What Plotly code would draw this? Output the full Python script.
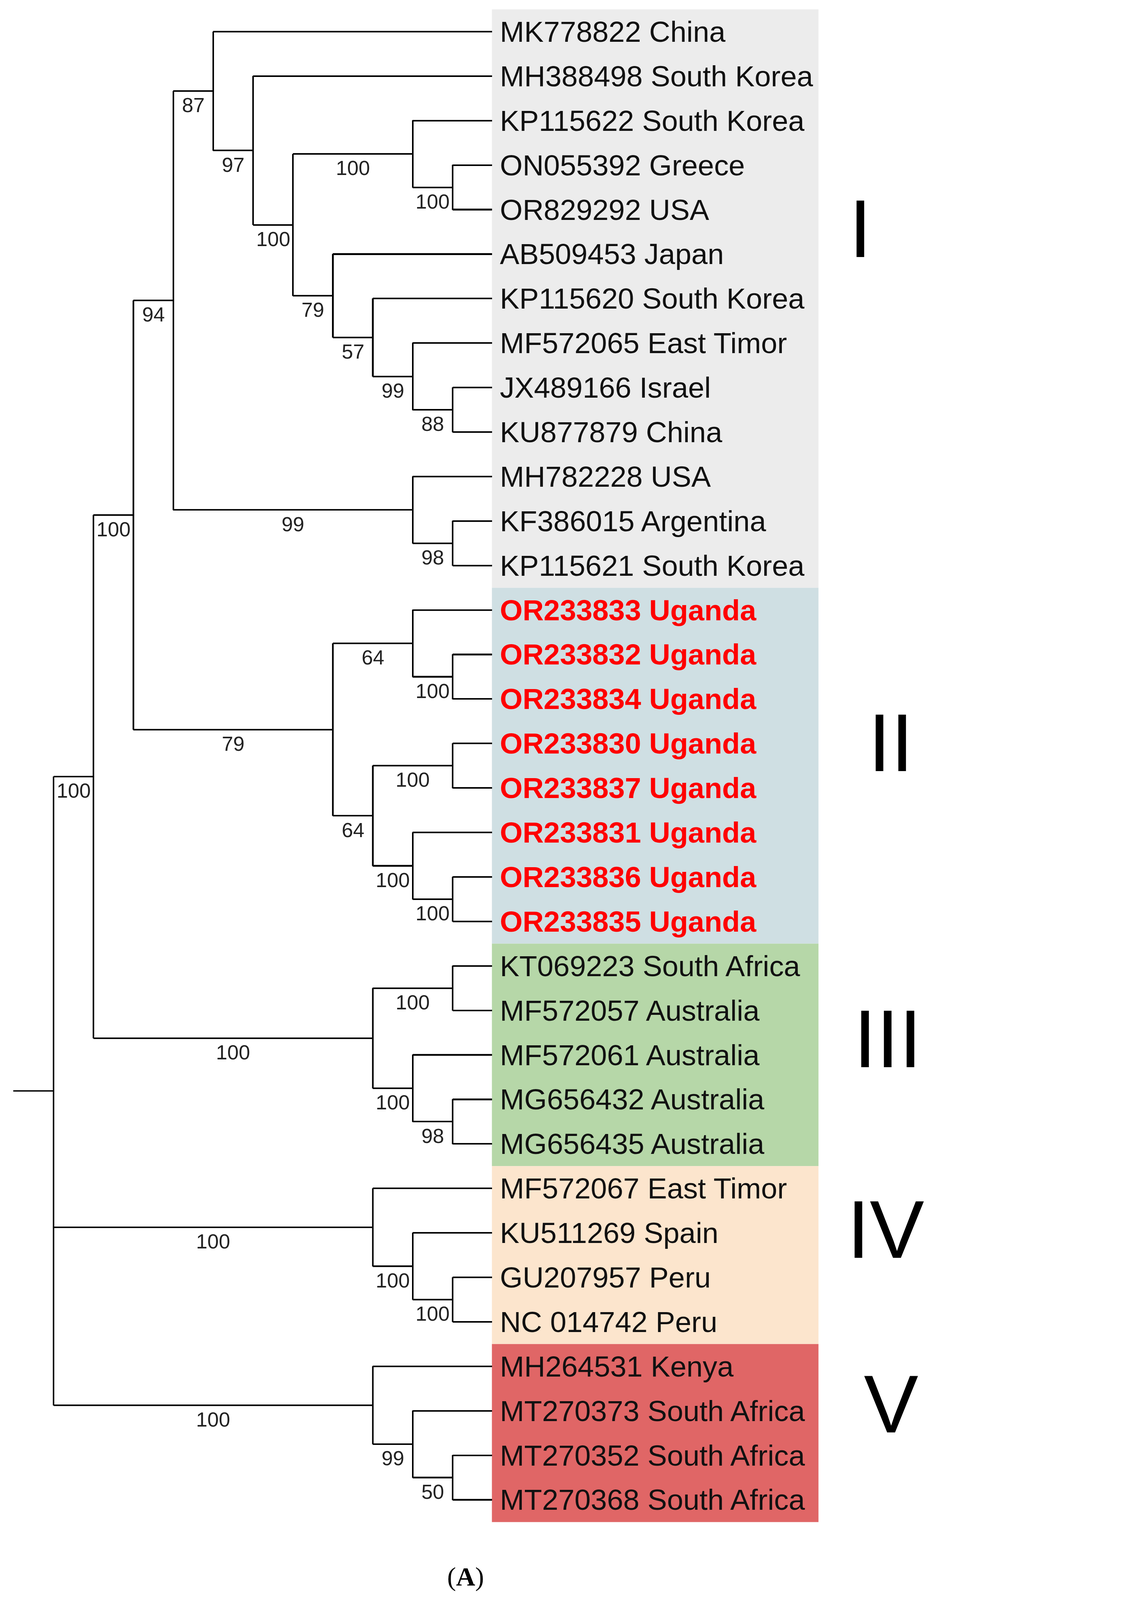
import plotly.graph_objects as go

# ---- data ----
leaves = ["MK778822 China","MH388498 South Korea","KP115622 South Korea","ON055392 Greece",
          "OR829292 USA","AB509453 Japan","KP115620 South Korea","MF572065 East Timor",
          "JX489166 Israel","KU877879 China","MH782228 USA","KF386015 Argentina",
          "KP115621 South Korea","OR233833 Uganda","OR233832 Uganda","OR233834 Uganda",
          "OR233830 Uganda","OR233837 Uganda","OR233831 Uganda","OR233836 Uganda",
          "OR233835 Uganda","KT069223 South Africa","MF572057 Australia","MF572061 Australia",
          "MG656432 Australia","MG656435 Australia","MF572067 East Timor","KU511269 Spain",
          "GU207957 Peru","NC 014742 Peru","MH264531 Kenya","MT270373 South Africa",
          "MT270352 South Africa","MT270368 South Africa"]
# internal nodes: name -> (depth level, bootstrap, children)
nodes = {
 "root": (0, "", ["n1", "IV", "V"]),
 "n1": (1, "100", ["n2", "III"]),
 "n2": (2, "100", ["n94", "II"]),
 "n94": (3, "94", ["n87", "n99b"]),
 "n87": (4, "87", [0, "n97"]),
 "n97": (5, "97", [1, "n100a"]),
 "n100a": (6, "100", ["n100b", "n79"]),
 "n100b": (9, "100", [2, "n100c"]),
 "n100c": (10, "100", [3, 4]),
 "n79": (7, "79", [5, "n57"]),
 "n57": (8, "57", [6, "n99a"]),
 "n99a": (9, "99", [7, "n88"]),
 "n88": (10, "88", [8, 9]),
 "n99b": (9, "99", [10, "n98"]),
 "n98": (10, "98", [11, 12]),
 "II": (7, "79", ["n64a", "n64b"]),
 "n64a": (9, "64", [13, "n100d"]),
 "n100d": (10, "100", [14, 15]),
 "n64b": (8, "64", ["n100e", "n100f"]),
 "n100e": (10, "100", [16, 17]),
 "n100f": (9, "100", [18, "n100g"]),
 "n100g": (10, "100", [19, 20]),
 "III": (8, "100", ["n100i", "n100j"]),
 "n100i": (10, "100", [21, 22]),
 "n100j": (9, "100", [23, "n98b"]),
 "n98b": (10, "98", [24, 25]),
 "IV": (8, "100", [26, "n100l"]),
 "n100l": (9, "100", [27, "n100m"]),
 "n100m": (10, "100", [28, 29]),
 "V": (8, "100", [30, "n99c"]),
 "n99c": (9, "99", [31, "n50"]),
 "n50": (10, "50", [32, 33]),
}
clades = ["I", "II", "III", "IV", "V"]
clade_ranges = [(0, 12), (13, 20), (21, 25), (26, 29), (30, 33)]
clade_colors = ["#ececec", "#cfdfe3", "#b6d7a8", "#fce5cd", "#e06666"]

# ---- layout (display units, scaled to 2937x5058) ----
W, H = 910, 1568
S = 2937 / W
Y0, DY = 31, 43.6
X0, DX = 52.5, 39.1
XT = 482
def lx(level): return X0 + DX * level
def ly(i): return Y0 + DY * i

xs, ys, anns = [], [], []
def pos(n):
    if isinstance(n, int):
        return XT, ly(n)
    lvl, bs, ch = nodes[n]
    x = lx(lvl)
    cps = [pos(c) for c in ch]
    cy = [p[1] for p in cps]
    for (cx, yy) in cps:
        xs.extend([x, cx, None]); ys.extend([yy, yy, None])
    xs.extend([x, x, None]); ys.extend([min(cy), max(cy), None])
    return x, (min(cy) + max(cy)) / 2

def labels(n, px):
    if isinstance(n, int): return
    lvl, bs, ch = nodes[n]
    x, y = pos(n)
    if bs:
        anns.append(dict(x=(px + x) / 2, y=y + 2, text=bs, showarrow=False, xanchor="center",
                         yanchor="top", font=dict(size=20 * S, color="#222", family="Liberation Sans")))
    for c in ch: labels(c, x)

rx, ry = pos("root")
xs.extend([13, rx, None]); ys.extend([ry, ry, None])
labels("root", rx)

fig = go.Figure()
shapes = []
for (a, b), col in zip(clade_ranges, clade_colors):
    shapes.append(dict(type="rect", x0=XT, x1=802, y0=ly(a) - DY / 2, y1=ly(b) + DY / 2,
                       fillcolor=col, line=dict(width=0), layer="below"))
fig.add_trace(go.Scatter(x=xs, y=ys, mode="lines", line=dict(color="black", width=1.3 * S),
                         hoverinfo="skip", showlegend=False))
for i, name in enumerate(leaves):
    ug = "Uganda" in name
    anns.append(dict(x=489, y=ly(i), text=f"<b>{name}</b>" if ug else name, showarrow=False,
                     xanchor="left", yanchor="middle",
                     font=dict(size=28.6 * S, color="#ff0000" if ug else "#111", family="Liberation Sans")))
for name, xx, yy in zip(clades, [843, 873, 870, 868, 873], [224, 728, 1018, 1205, 1376]):
    anns.append(dict(x=xx, y=yy, text=name, showarrow=False, xanchor="center",
                     yanchor="middle", font=dict(size=80 * S, color="black", family="Liberation Sans")))
anns.append(dict(x=456, y=1545, text="(<b>A</b>)", showarrow=False, xanchor="center", yanchor="middle",
                 font=dict(size=26 * S, color="black", family="Liberation Serif")))

fig.update_layout(width=2937, height=5058, margin=dict(l=0, r=0, t=0, b=0),
                  plot_bgcolor="white", paper_bgcolor="white", shapes=shapes, annotations=anns,
                  xaxis=dict(range=[0, W], visible=False, fixedrange=True),
                  yaxis=dict(range=[H, 0], visible=False, fixedrange=True))

post = """
document.body.style.margin='0';
var gd = document.getElementById('{plot_id}');
var k = Math.min(window.innerWidth/2937, window.innerHeight/5058);
if (k < 0.995) {
  var upd = {width: 2937*k, height: 5058*k};
  gd.layout.annotations.forEach(function(a, i){ upd['annotations['+i+'].font.size'] = a.font.size*k; });
  Plotly.relayout(gd, upd);
  Plotly.restyle(gd, {'line.width': gd.data[0].line.width*k}, [0]);
}
"""
fig.write_html("out.html", post_script=post, config={"displayModeBar": False})
